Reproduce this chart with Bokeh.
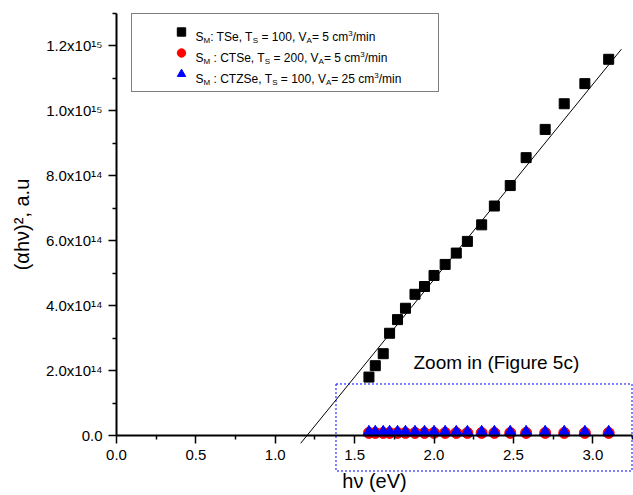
from bokeh.plotting import figure
from bokeh.models import (Range1d, FixedTicker, NumeralTickFormatter, CustomJSTickFormatter,
                          BoxAnnotation, Label, Legend, LegendItem)
from bokeh.embed import file_html
from bokeh.resources import INLINE

# ---------------- data ----------------
hv = [1.59, 1.63, 1.68, 1.72, 1.77, 1.82, 1.88, 1.94, 2.00, 2.07,
      2.14, 2.21, 2.30, 2.38, 2.48, 2.58, 2.70, 2.82, 2.95, 3.10]
tse = [1.80e14, 2.15e14, 2.52e14, 3.15e14, 3.57e14, 3.92e14, 4.35e14, 4.59e14, 4.93e14, 5.27e14,
       5.62e14, 5.98e14, 6.49e14, 7.07e14, 7.70e14, 8.56e14, 9.43e14, 10.22e14, 10.84e14, 11.59e14]
ctse = [0.8e13, 0.8e13, 0.8e13, 0.8e13, 0.8e13, 0.8e13, 0.8e13, 0.8e13, 0.8e13, 0.8e13,
        0.8e13, 0.8e13, 0.8e13, 0.8e13, 0.8e13, 0.8e13, 0.8e13, 0.8e13, 0.8e13, 0.8e13]
ctzse = [1.0e13, 1.0e13, 1.0e13, 1.0e13, 1.0e13, 1.0e13, 1.0e13, 1.0e13, 1.0e13, 1.0e13,
         1.0e13, 1.0e13, 1.0e13, 1.0e13, 1.0e13, 1.0e13, 1.0e13, 1.0e13, 1.0e13, 1.0e13]
fit_hv = [1.16, 3.18]
fit_y = [-0.24e14, 11.9e14]
zoom_hv = [1.3825, 3.2469]
zoom_y = [-1.094e14, 1.587e14]

x_ticks = [0.0, 0.5, 1.0, 1.5, 2.0, 2.5, 3.0]
x_minor = [0.25, 0.75, 1.25, 1.75, 2.25, 2.75, 3.25]
y_ticks = [0.0, 2e14, 4e14, 6e14, 8e14, 1.0e15, 1.2e15]
y_minor = [1e14, 3e14, 5e14, 7e14, 9e14, 1.1e15, 1.3e15]
y_tick_labels = ["0.0", "2.0x10\u00b9\u2074", "4.0x10\u00b9\u2074", "6.0x10\u00b9\u2074",
                 "8.0x10\u00b9\u2074", "1.0x10\u00b9\u2075", "1.2x10\u00b9\u2075"]

legend_rows = [
    [("S", "n"), ("M", "sub"), (": TSe, T", "n"), ("S", "sub"), (" = 100, V", "n"), ("A", "sub"),
     ("= 5 cm", "n"), ("3", "sup"), ("/min", "n")],
    [("S", "n"), ("M", "sub"), (" : CTSe, T", "n"), ("S", "sub"), (" = 200, V", "n"), ("A", "sub"),
     ("= 5 cm", "n"), ("3", "sup"), ("/min", "n")],
    [("S", "n"), ("M", "sub"), (" : CTZSe, T", "n"), ("S", "sub"), (" = 100, V", "n"), ("A", "sub"),
     ("= 25 cm", "n"), ("3", "sup"), ("/min", "n")],
]
zoom_text = "Zoom in (Figure 5c)"
x_title = "h\u03bd (eV)"
y_title = "(\u03b1h\u03bd)\u00b2, a.u"

# ---------------- layout ----------------
W, H = 633, 495
AX_X, AX_Y = 116.0, 435.0          # canvas pixel of the data origin
PX_X = 158.77                       # pixels per eV
PX_Y = 32.46e-14                    # pixels per unit of y
X0, X1 = -AX_X / PX_X, (W - AX_X) / PX_X
Y0, Y1 = -(H - AX_Y) / PX_Y, AX_Y / PX_Y
FONT = "Liberation Sans"


def dx(px):
    return (px - AX_X) / PX_X


def dy(py):
    return (AX_Y - py) / PX_Y


p = figure(width=W, height=H, x_range=Range1d(X0, X1), y_range=Range1d(Y0, Y1),
           output_backend="svg", toolbar_location=None,
           min_border_left=0, min_border_right=0, min_border_top=0, min_border_bottom=0)
p.grid.visible = False
p.outline_line_color = None
p.background_fill_color = "white"
p.border_fill_color = "white"

# fit line + data
p.line(fit_hv, fit_y, line_color="black", line_width=1)
r_ci = p.scatter(hv, ctse, marker="circle", size=11, fill_color="red", line_color="red")
r_tr = p.scatter(hv, ctzse, marker="triangle", size=12, fill_color="blue", line_color="blue")
r_sq = p.scatter(hv, tse, marker="square", size=10, fill_color="black", line_color="black")

# zoom box
p.add_layout(BoxAnnotation(left=zoom_hv[0], right=zoom_hv[1], bottom=zoom_y[0], top=zoom_y[1],
                           fill_alpha=0, line_color="#0000ff", line_alpha=1.0, line_width=1,
                           line_dash="2 2"))
p.add_layout(Label(x=dx(413), y=dy(362), text=zoom_text, text_font=FONT, text_font_size="19px",
                   text_baseline="middle", text_align="left", text_color="black"))

# axes
xa = p.xaxis[0]
ya = p.yaxis[0]
xa.fixed_location = 0
ya.fixed_location = 0
xa.bounds = (0, 3.25)
ya.bounds = (0, 1.3e15)
xa.ticker = FixedTicker(ticks=x_ticks, minor_ticks=x_minor)
ya.ticker = FixedTicker(ticks=y_ticks, minor_ticks=y_minor)
xa.formatter = NumeralTickFormatter(format="0.0")
ya.formatter = CustomJSTickFormatter(args=dict(tv=y_ticks, tl=y_tick_labels), code="""
for (let i = 0; i < tv.length; i++) {
  if (Math.abs(tick - tv[i]) < 1e9) return tl[i];
}
return "";
""")
for ax in (xa, ya):
    ax.axis_line_width = 2
    ax.axis_line_color = "black"
    ax.major_tick_line_width = 1.5
    ax.minor_tick_line_width = 1.5
    ax.major_tick_in = 0
    ax.major_tick_out = 8
    ax.minor_tick_in = 0
    ax.minor_tick_out = 4
    ax.major_label_text_font = FONT
    ax.major_label_text_font_size = "15px"
    ax.major_label_text_color = "black"
    ax.major_label_standoff = 6
    ax.axis_label_text_font = FONT
    ax.axis_label_text_font_size = "20px"
    ax.axis_label_text_font_style = "normal"
    ax.axis_label_text_color = "black"
xa.axis_label = x_title
ya.axis_label = y_title
xa.axis_label_standoff = 7
ya.axis_label_standoff = 10

# legend (markers + box); its texts are drawn as segments for sub/superscripts
legend = Legend(items=[LegendItem(label=" ", renderers=[r_sq]),
                       LegendItem(label=" ", renderers=[r_ci]),
                       LegendItem(label=" ", renderers=[r_tr])],
                location=(131, H - 92), orientation="vertical", padding=7, spacing=0,
                glyph_width=84, glyph_height=21, label_height=21, label_width=208,
                label_standoff=0, margin=0, border_line_color="black", border_line_width=1,
                background_fill_color="white", background_fill_alpha=0,
                label_text_font_size="12px")
p.add_layout(legend)

AW = {' ': 278, ':': 278, ',': 278, '=': 584, '/': 278, 'A': 667, 'C': 722, 'M': 833, 'S': 667,
      'T': 611, 'V': 667, 'Z': 611, 'c': 500, 'e': 556, 'i': 222, 'm': 833, 'n': 556}


def tw(s, size):
    return sum(AW.get(ch, 556) for ch in s) * size / 1000.0


row_centers = [32.5, 53.5, 74.5]
for row, c in zip(legend_rows, row_centers):
    cur = 195.0
    for t, kind in row:
        size = 12 if kind == "n" else 8
        base = c + 4 if kind == "n" else (c + 7 if kind == "sub" else c)
        lead = len(t) - len(t.lstrip(' '))
        txt = t.strip(' ')
        p.add_layout(Label(x=dx(cur + lead * tw(' ', size)), y=dy(base), text=txt, text_font=FONT,
                           text_font_size=f"{size}px", text_baseline="alphabetic",
                           text_align="left", text_color="black"))
        cur += tw(t, size)

open("out.html", "w", encoding="utf-8").write(file_html(p, INLINE))
